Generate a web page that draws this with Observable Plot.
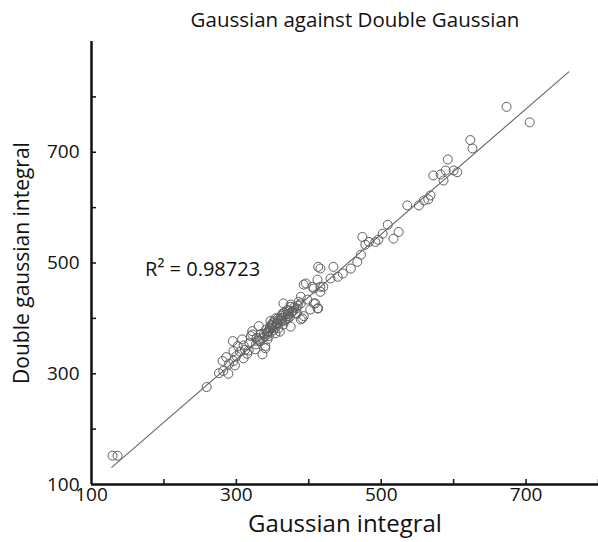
<!DOCTYPE html>
<html><head><meta charset="utf-8">
<script src="https://cdn.jsdelivr.net/npm/d3@7"></script>
<script src="https://cdn.jsdelivr.net/npm/@observablehq/plot@0.6"></script>
<style>
body{margin:0;background:#fff;font-family:"Open Sans",sans-serif;}
#title{height:30px;line-height:38px;font-size:20.5px;text-align:center;padding-left:112px;width:486px;color:#111;}
</style></head><body>
<div id="title">Gaussian against Double Gaussian</div>
<div id="chart"></div>
<script>
// Data
const gaussianIntegral = [129,136,259,276,282,289,281,296,296,295,302,310,310,315,308,317,320,322,322,327,326,331,333,336,336,340,340,343,343,344,347,347,350,354,354,357,358,365,365,364,371,375,375,375,382,384,389,389,389,391,393,393,396,398,402,405,407,407,409,412,412,413,413,416,416,416,420,430,434,440,447,458,467,472,474,478,483,492,496,502,509,517,524,536,552,559,565,568,572,582,586,589,600,605,592,623,626,673,705,
338,341,345,348,351,352,355,356,359,360,362,363,366,368,370,372,374,377,380,383,386,330,328,334,318,312,305,300,290,286,298,
342,346,349,353,357,361,364,367,371,376,379,385,
332,339,344,350,356,362,368,373];
const doubleGaussianIntegral = [152,152,276,301,305,300,323,323,341,359,350,351,328,336,362,342,368,377,371,353,344,386,359,364,335,346,350,362,371,377,382,395,391,400,373,400,382,389,427,409,400,421,425,385,409,409,398,427,439,400,404,461,463,434,416,457,427,454,427,418,470,418,493,490,457,448,457,472,493,475,481,490,502,515,547,533,538,538,542,553,569,544,556,604,604,613,615,622,658,660,649,667,667,664,687,722,707,782,754,
372,380,368,388,378,395,385,392,398,376,405,395,410,398,415,408,403,412,420,418,430,362,365,372,355,343,340,332,318,330,315,
374,383,387,382,390,397,401,396,404,411,414,423,
360,368,375,384,392,400,407,414];
// Fitted line end points
const fitX = [128, 759];
const fitY = [131, 845];
const xTicks = [200,300,400,500,600,700,800];
const xTickLabels = [100,300,500,700];
const yTicks = [200,300,400,500,600,700,800];
const yTickLabels = [100,300,500,700];
const annotation = [{x: 174, y: 488, text: "R\u00b2 = 0.98723"}];
const xLabel = "Gaussian integral";
const yLabel = "Double gaussian integral";

const points = gaussianIntegral.map((g, i) => ({g, d: doubleGaussianIntegral[i]}));
const fit = fitX.map((x, i) => ({x, y: fitY[i]}));

const W = 598, H = 512, mT = 11, mB = 58, mL = 91, mR = 0, tick = 5;
const frameW = W - mL - mR, frameH = H - mT - mB;

const chart = Plot.plot({
  width: W, height: H,
  marginTop: mT, marginBottom: mB, marginLeft: mL, marginRight: mR,
  style: {fontFamily: "Open Sans, sans-serif", fontSize: "19px", color: "#111", background: "#fff"},
  x: {domain: [100, 800]},
  y: {domain: [100, 900]},
  marks: [
    Plot.tickX(xTicks, {x: d => d, insetTop: frameH - tick, stroke: "#111", strokeWidth: 1.5}),
    Plot.tickY(yTicks, {y: d => d, insetRight: frameW - tick, stroke: "#111", strokeWidth: 1.5}),
    Plot.axisX({ticks: xTickLabels, tickSize: 0, tickPadding: 3, label: null, fontSize: 19}),
    Plot.axisY({ticks: yTickLabels, tickSize: 0, tickPadding: 12, label: null, fontSize: 19}),
    Plot.ruleX([100], {strokeWidth: 2.5, stroke: "#111"}),
    Plot.ruleY([100], {strokeWidth: 2.5, stroke: "#111"}),
    Plot.line(fit, {x: "x", y: "y", stroke: "#666", strokeWidth: 1.1}),
    Plot.dot(points, {x: "g", y: "d", r: 4.5, stroke: "#5f5f5f", strokeWidth: 1, fill: "none"}),
    Plot.text(annotation, {x: "x", y: "y", text: "text", textAnchor: "start", fontSize: 20, fill: "#111"}),
    Plot.text([xLabel], {frameAnchor: "bottom", lineAnchor: "middle", dy: 40, fontSize: 24, fill: "#111"}),
    Plot.text([yLabel], {frameAnchor: "left", textAnchor: "middle", lineAnchor: "middle", rotate: -90, dx: -69, fontSize: 21, fill: "#111"})
  ]
});
document.getElementById("chart").appendChild(chart);
</script>
</body></html>
